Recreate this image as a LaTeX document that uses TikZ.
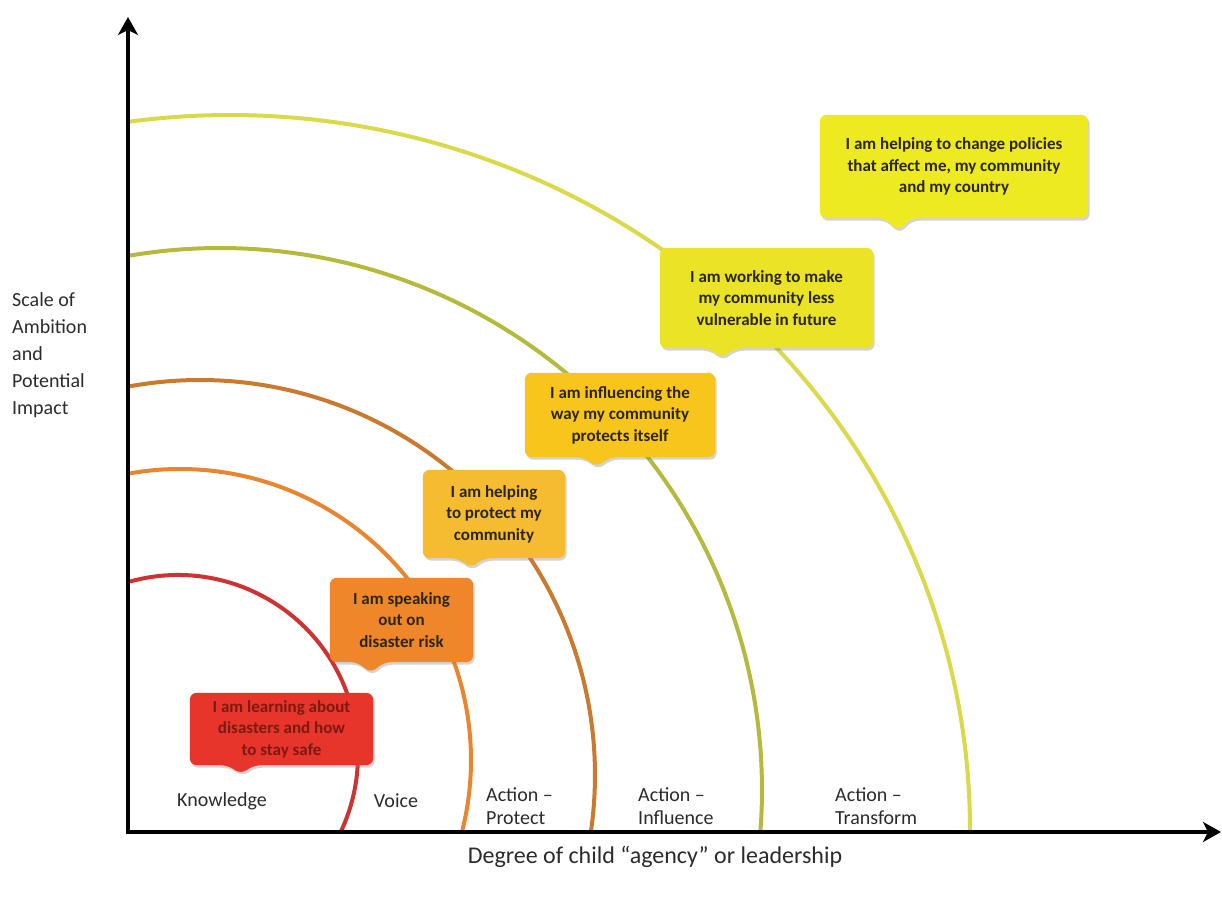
\documentclass[tikz,border=0pt]{standalone}
\usepackage{fontspec}
\setmainfont{Carlito}
\usetikzlibrary{arrows.meta,calc,shadows}
\pgfdeclarelayer{arcs}
\pgfdeclarelayer{bubbles}
\pgfsetlayers{arcs,bubbles,main}
\definecolor{arcRed}{HTML}{CC3333}
\definecolor{arcOrange}{HTML}{E8852E}
\definecolor{arcBrown}{HTML}{C97A2E}
\definecolor{arcOlive}{HTML}{B3BA3C}
\definecolor{arcYellow}{HTML}{D9D94A}
\definecolor{bRed}{HTML}{E8352B}
\definecolor{bOrange}{HTML}{F0862A}
\definecolor{bGold}{HTML}{F5BC32}
\definecolor{bGoldB}{HTML}{F7C51C}
\definecolor{bYellow}{HTML}{EBE326}
\definecolor{bYellowB}{HTML}{EEEA22}
\definecolor{bubtext}{HTML}{2A2614}
\definecolor{learntext}{HTML}{7B1A12}
\definecolor{labtext}{HTML}{2B2B2B}
\newcommand\callout[4]{%
  \begin{pgfonlayer}{bubbles}
  \fill[#2, rounded corners=7pt, drop shadow={opacity=.35,shadow xshift=1.5pt,shadow yshift=-2.5pt}]
    (#1.north west) -- (#1.north east) -- (#1.south east)
    -- ($(#1.south west)+(#3+13,0)$) -- ($(#1.south west)+(#3,-#4)$) -- ($(#1.south west)+(#3-13,0)$)
    -- (#1.south west) -- cycle;
  \end{pgfonlayer}}
\begin{document}
\begin{tikzpicture}[x=1pt,y=1pt,
  arcline/.style={line width=4pt},
  axis/.style={line width=4.5pt, {Stealth[length=18pt,width=20pt,inset=5pt]}-{Stealth[length=18pt,width=20pt,inset=5pt]}},
  bubble/.style={inner sep=0pt, align=center, font=\fontsize{17}{21.5}\selectfont\bfseries, text=bubtext},
  axlabel/.style={font=\fontsize{20}{27}\selectfont, text=labtext, inner sep=0pt},
  steplabel/.style={font=\fontsize{20}{23}\selectfont, text=labtext, inner sep=0pt, align=left}
]
\useasboundingbox (0,0) rectangle (1222,897);

% arcs
\begin{pgfonlayer}{arcs}
\draw[arcline,arcRed]    (178,142) ++(105.5:180) arc[start angle=105.5,end angle=-25.3,radius=180];
\draw[arcline,arcOrange] (180,137) ++(99.9:291) arc[start angle=99.9,end angle=-14.3,radius=291];
\draw[arcline,arcBrown]  (200,122) ++(100.2:395) arc[start angle=100.2,end angle=-8.3,radius=395];
\draw[arcline,arcOlive]  (220,107) ++(99.56:542) arc[start angle=99.56,end angle=-4.44,radius=542];
\draw[arcline,arcYellow] (230,67) ++(97.77:740 and 715) arc[start angle=97.77,end angle=-0.2,x radius=740,y radius=715];
\end{pgfonlayer}

% bubbles
\node[bubble,minimum width=183pt,minimum height=72pt,text=learntext] (learn) at (281.5,168) {I am learning about\\disasters and how\\to stay safe};
\callout{learn}{bRed}{51}{9}
\node[bubble,minimum width=143pt,minimum height=84pt] (speak) at (401.5,277) {I am speaking\\out on\\disaster risk};
\callout{speak}{bOrange}{41}{11}
\node[bubble,minimum width=142pt,minimum height=88pt] (protect) at (494,383) {I am helping\\to protect my\\community};
\callout{protect}{bGold}{48}{10}
\node[bubble,minimum width=190pt,minimum height=84pt] (influence) at (620,482) {I am influencing the\\way my community\\protects itself};
\callout{influence}{bGoldB}{72}{10}
\node[bubble,minimum width=213pt,minimum height=100pt] (working) at (766.5,599) {I am working to make\\my community less\\vulnerable in future};
\callout{working}{bYellow}{62}{10}
\node[bubble,minimum width=268pt,minimum height=103pt] (policies) at (954,730.5) {I am helping to change policies\\that affect me, my community\\and my country};
\callout{policies}{bYellowB}{78}{13}

% axes
\coordinate (O) at (128,65);
\coordinate (ytop) at (128,880);
\coordinate (xend) at (1221,65);
\draw[axis] (ytop) -- (O) -- (xend);

% labels
\node[axlabel,anchor=north west,align=left] (ylab) at (12,605) {Scale of\\Ambition\\and\\Potential\\Impact};
\node[axlabel,font=\fontsize{24}{28}\selectfont] (xlab) at (655,40) {Degree of child “agency” or leadership};
\node[steplabel] (knowledge) at (222,96) {Knowledge};
\node[steplabel] (voice) at (396,96) {Voice};
\node[steplabel,anchor=west] (actprotect) at (486,91) {Action –\\Protect};
\node[steplabel,anchor=west] (actinfluence) at (638,91) {Action –\\Influence};
\node[steplabel,anchor=west] (acttransform) at (835,91) {Action –\\Transform};
\end{tikzpicture}
\end{document}
